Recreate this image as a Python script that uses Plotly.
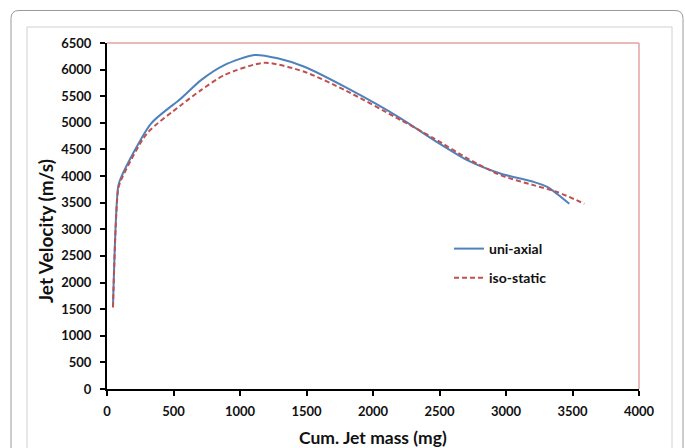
import plotly.graph_objects as go

# Data
uni_x = [45, 85, 110, 331, 556, 707, 882, 1108, 1283, 1484, 1800, 2211, 2461, 2712, 2963, 3213, 3313, 3476]
uni_y = [1550, 3820, 4000, 4987, 5458, 5803, 6085, 6274, 6212, 6053, 5660, 5081, 4672, 4296, 4045, 3887, 3793, 3480]

iso_x = [45, 85, 110, 300, 556, 707, 882, 1183, 1484, 1800, 2211, 2461, 2712, 2963, 3213, 3389, 3589]
iso_y = [1530, 3770, 3950, 4800, 5332, 5615, 5897, 6129, 5959, 5600, 5049, 4704, 4328, 4013, 3825, 3698, 3480]

x_ticks = [0, 500, 1000, 1500, 2000, 2500, 3000, 3500, 4000]
y_ticks = [0, 500, 1000, 1500, 2000, 2500, 3000, 3500, 4000, 4500, 5000, 5500, 6000, 6500]

FONT = "Lato"
W, H = 685, 448
L, R, T, B = 107, 46, 43, 59
PW, PH = W - L - R, H - T - B


def px(x):
    return (x - L) / PW


def py(y):
    return (H - B - y) / PH


fig = go.Figure()
fig.add_trace(go.Scatter(
    x=uni_x, y=uni_y, mode="lines", name="<b>uni-axial</b>", legendgroup="a",
    line=dict(color="#4F81BD", width=2, shape="spline", smoothing=0.7),
))
fig.add_trace(go.Scatter(
    x=iso_x, y=iso_y, mode="lines", name="<b>iso-static</b>", legendgroup="b",
    line=dict(color="#C0504D", width=2, dash="5px,3px", shape="spline", smoothing=0.7),
))


def rounded(x0, y0, x1, y1, r):
    rx = r / PW
    ry = r / PH
    X0, X1 = px(x0), px(x1)
    Y0, Y1 = py(y0), py(y1)
    return (f"M {X0+rx:.5f},{Y0:.5f} L {X1-rx:.5f},{Y0:.5f} Q {X1:.5f},{Y0:.5f} {X1:.5f},{Y0-ry:.5f} "
            f"L {X1:.5f},{Y1+ry:.5f} Q {X1:.5f},{Y1:.5f} {X1-rx:.5f},{Y1:.5f} "
            f"L {X0+rx:.5f},{Y1:.5f} Q {X0:.5f},{Y1:.5f} {X0:.5f},{Y1+ry:.5f} "
            f"L {X0:.5f},{Y0-ry:.5f} Q {X0:.5f},{Y0:.5f} {X0+rx:.5f},{Y0:.5f} Z")


shapes = [
    dict(type="path", xref="paper", yref="paper", path=rounded(11, 10.5, 683, 470, 8),
         line=dict(color="#9A9A9A", width=1), layer="below"),
    dict(type="rect", xref="paper", yref="paper", x0=px(27), x1=px(672), y0=py(27), y1=py(470),
         line=dict(color="#D0D0D0", width=1), layer="below"),
    dict(type="line", xref="paper", yref="paper", x0=0, x1=1, y0=1, y1=1,
         line=dict(color="#E3A3A3", width=1.5), layer="below"),
    dict(type="line", xref="paper", yref="paper", x0=1, x1=1, y0=0, y1=1,
         line=dict(color="#E3A3A3", width=1.5), layer="below"),
]

annotations = [
    dict(text="<b>Jet Velocity (m/s)</b>", xref="paper", yref="paper", x=px(45), y=py(231),
         textangle=-90, showarrow=False, font=dict(family=FONT, size=19, color="#111"),
         xanchor="center", yanchor="middle"),
    dict(text="<b>Cum. Jet mass (mg)</b>", xref="paper", yref="paper", x=px(373), y=py(437),
         showarrow=False, font=dict(family=FONT, size=17.5, color="#111"),
         xanchor="center", yanchor="middle"),
]

fig.update_layout(
    width=W, height=H,
    margin=dict(l=L, r=R, t=T, b=B, pad=0),
    paper_bgcolor="white", plot_bgcolor="white",
    font=dict(family=FONT, color="#111"),
    showlegend=True,
    legend=dict(x=px(449), y=py(233), xanchor="left", yanchor="top",
                bgcolor="rgba(0,0,0,0)", font=dict(family=FONT, size=14, color="#111"),
                traceorder="grouped", tracegroupgap=8, itemwidth=30),
    shapes=shapes,
    annotations=annotations,
    xaxis=dict(range=[0, 4000], tickvals=x_ticks, ticktext=[f"<b>{v}</b>" for v in x_ticks],
               showgrid=False, zeroline=False, showline=True, linecolor="black", linewidth=2,
               ticks="outside", ticklen=5, tickwidth=1.5, tickcolor="black",
               tickfont=dict(family=FONT, size=13, color="#111"), ticklabelstandoff=4,
               fixedrange=True),
    yaxis=dict(range=[0, 6500], tickvals=y_ticks, ticktext=[f"<b>{v}</b>" for v in y_ticks],
               showgrid=False, zeroline=False, showline=True, linecolor="black", linewidth=2,
               ticks="outside", ticklen=5, tickwidth=1.5, tickcolor="black",
               tickfont=dict(family=FONT, size=13, color="#111"), ticklabelstandoff=6,
               fixedrange=True),
)

fig.write_html("out.html", config={"displayModeBar": False},
               post_script="document.body.style.margin='0';document.body.style.overflow='hidden';")
